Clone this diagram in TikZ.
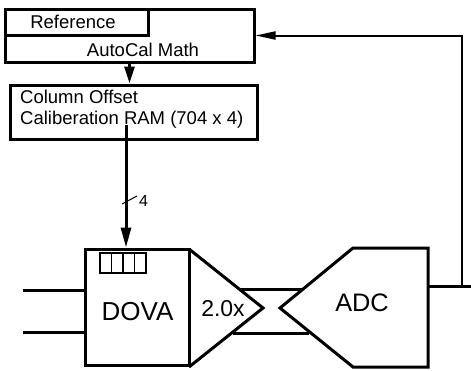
\documentclass[tikz,border=0pt]{standalone}
\usepackage{fontspec}
\setmainfont{Liberation Sans}
\usetikzlibrary{arrows.meta}

\begin{document}
\begin{tikzpicture}[x=1pt,y=1pt,yscale=-1,
  box/.style={draw,line width=3pt,inner sep=0pt},
  wire/.style={line width=3pt},
  fbwire/.style={line width=2pt},
  lbl/.style={inner sep=0pt,anchor=base,font=\fontsize{18.5}{21}\selectfont},
  big/.style={inner sep=0pt,anchor=base,font=\fontsize{26}{30}\selectfont}]
\useasboundingbox (0,0) rectangle (471,370);

%Shape: Rectangle [id:calc]
\node[box,minimum width=249pt,minimum height=53pt] (calc) at (129.5,35.5) {};
%Shape: Rectangle [id:ref]
\node[box,minimum width=143pt,minimum height=26pt] (ref) at (76.5,22) {};
%Shape: Rectangle [id:ram]
\node[box,minimum width=247pt,minimum height=54pt] (ram) at (133.5,112) {};
%Shape: Rectangle [id:dova]
\node[box,minimum width=104pt,minimum height=116pt] (dova) at (137,307) {};
%Shape: Rectangles [id:cells]
\foreach \i in {0,...,3}
  \draw[line width=1.5pt] (100+11.5*\i,253) rectangle ++(11.5,20);

%Shape: Triangle [id:amp]
\coordinate (ampT) at (189,249);
\coordinate (ampO) at (263,308);
\coordinate (ampB) at (189,367);
\draw[wire,line join=miter] (ampT) -- (ampO) -- (ampB);
%Shape: Pentagon [id:adc]
\coordinate (adcTL) at (353,248);
\coordinate (adcTR) at (428,248);
\coordinate (adcBR) at (428,367);
\coordinate (adcBL) at (353,367);
\coordinate (adcIn) at (280,308);
\draw[wire] (adcIn) -- (adcTL) -- (adcTR) -- (adcBR) -- (adcBL) -- cycle;

%Straight Lines [id:inputs]
\coordinate (inP) at (23,290);
\coordinate (inN) at (23,332);
\draw[wire] (inP) -- (inP -| dova.west);
\draw[wire] (inN) -- (inN -| dova.west);
%Straight Lines [id:diff]
\coordinate (ampP) at (239,289);
\coordinate (adcP) at (303,289);
\coordinate (ampN) at (233,333);
\coordinate (adcN) at (309,333);
\draw[wire] (ampP) -- (adcP);
\draw[wire] (ampN) -- (adcN);

%Straight Lines [id:calc2ram]
\draw[wire,-{Triangle[length=17pt,width=10pt]}] (calc.south) -- (calc.south |- ram.north);
%Straight Lines [id:bus]
\coordinate (bus) at (126,125);
\draw[wire,-{Triangle[length=20pt,width=10pt]}] (bus) -- (bus |- dova.north);
\draw[line width=1pt] (122,204) -- (137,196);
%Straight Lines [id:feedback]
\coordinate (adcOut) at (428,286);
\coordinate (outEnd) at (471,286);
\draw[wire] (adcOut) -- (outEnd);
\draw[fbwire,-{Triangle[length=20pt,width=8pt]}] ([xshift=34pt]adcOut) |- (calc.east);

% Text Node
\node[lbl] (refTxt) at (73,28.3) {Reference};
% Text Node
\node[lbl] (calcTxt) at (143,56.7) {AutoCal Math};
% Text Node
\node[lbl,anchor=base west] (ramTxtA) at (20,103) {Column Offset};
% Text Node
\node[lbl,anchor=base west] (ramTxtB) at (20,124) {Caliberation RAM (704 x 4)};
% Text Node
\node[lbl,anchor=base west,font=\fontsize{16}{18}\selectfont] (busTxt) at (139,206) {4};
% Text Node
\node[big] (dovaTxt) at (137.5,320) {DOVA};
% Text Node
\node[big,font=\fontsize{23}{27}\selectfont] (ampTxt) at (223,316.7) {2.0x};
% Text Node
\node[big,font=\fontsize{25.3}{29}\selectfont] (adcTxt) at (362,311.7) {ADC};

\end{tikzpicture}
\end{document}
